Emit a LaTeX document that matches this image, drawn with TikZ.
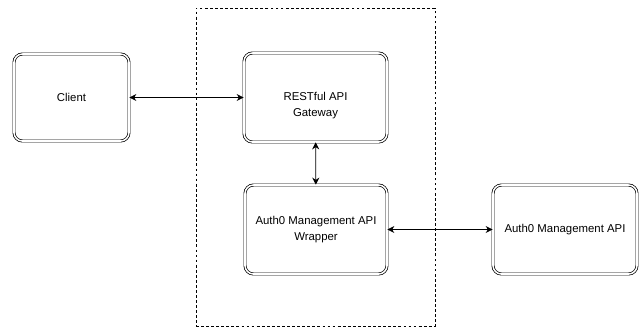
\documentclass[tikz,border=0pt]{standalone}
\usepackage{fontspec}
\setmainfont{Liberation Sans}
\usepackage{xcolor}
\usepackage{tikz}
\usetikzlibrary{positioning, arrows.meta}
\definecolor{ink}{HTML}{000000}
\definecolor{paper}{HTML}{FFFFFF}
\tikzset{
  service/.style={draw=ink, double=paper, double distance=1.1pt, line width=0.5pt, rounded corners=6pt, fill=paper, align=center, font=\fontsize{8.1}{11.3}\selectfont, inner sep=3pt},
  boundary/.style={draw=ink, line width=0.5pt, dash pattern=on 2pt off 1.6pt, inner sep=0pt},
  twoway/.style={{Stealth[length=5pt, width=5pt]}-{Stealth[length=5pt, width=5pt]}, line width=0.6pt, draw=ink},
}
\begin{document}
\begin{tikzpicture}
  \useasboundingbox (0,0) rectangle (16.05,-8.275);
  % dashed frame round the gateway and the wrapper
  \node[boundary, minimum width=5.975cm, minimum height=7.95cm] (frame) at (7.8875,-4.175) {};
  \node[service, minimum width=2.875cm, minimum height=2.175cm] (client) at (1.7875,-2.4375) {Client};
  \node[service, minimum width=3.575cm, minimum height=2.225cm] (gateway) at (7.8875,-2.4375) {\rule{0pt}{17pt}RESTful API\\Gateway};
  \node[service, minimum width=3.55cm, minimum height=2.225cm] (wrapper) at (7.9,-5.7375) {Auth0 Management API\\Wrapper};
  \node[service, minimum width=3.6cm, minimum height=2.225cm] (mgmtapi) at (14.125,-5.7375) {Auth0 Management API};
  \draw[twoway] (client) -- (gateway);
  \draw[twoway] (gateway) -- (wrapper);
  \draw[twoway] (wrapper) -- (mgmtapi);
\end{tikzpicture}
\end{document}
